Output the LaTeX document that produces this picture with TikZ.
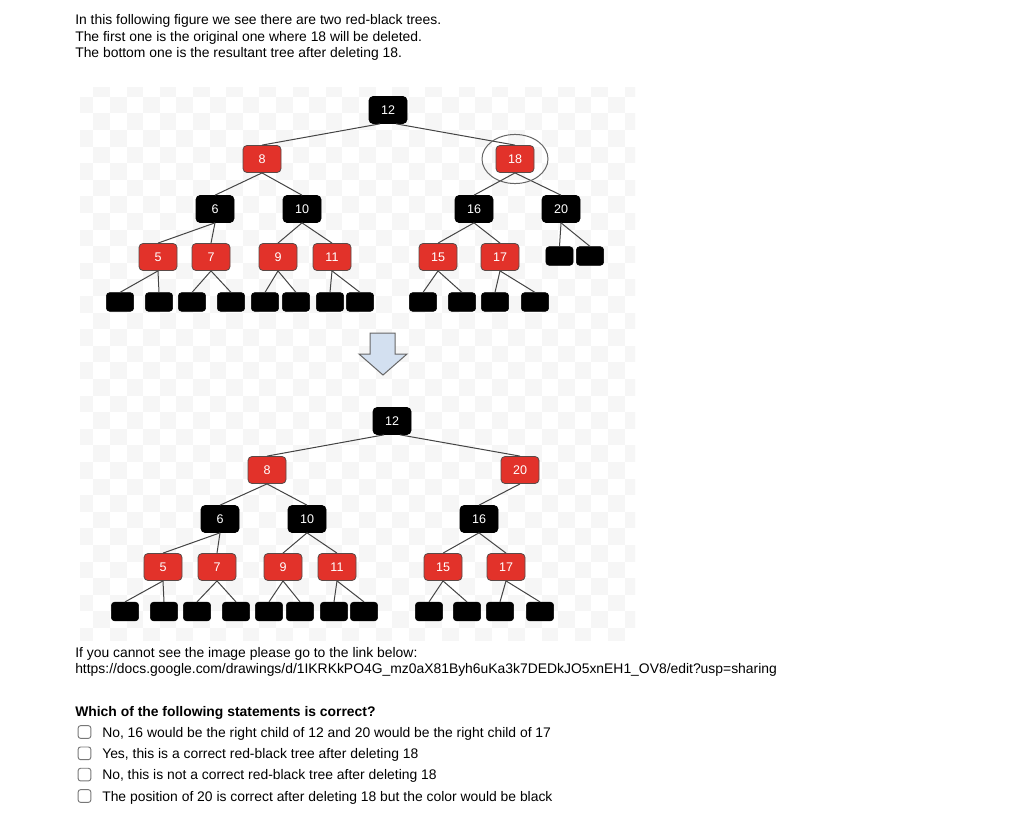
\documentclass[tikz,border=0pt]{standalone}
\usepackage{fontspec}
\setmainfont{Liberation Sans}
\usetikzlibrary{shapes.geometric}
\definecolor{rbred}{HTML}{E2322A}
\definecolor{rbborder}{HTML}{5A4A48}
\definecolor{edgegray}{HTML}{444444}
\definecolor{checkgray}{HTML}{F6F6F6}
\definecolor{arrowfill}{HTML}{D3E0F0}
\definecolor{arrowline}{HTML}{666666}
\definecolor{boxgray}{HTML}{777777}
\tikzset{
  rbnode/.style={rounded corners=3pt, minimum width=28.5pt, minimum height=20.25pt, inner sep=0pt, text=white, font=\fontsize{9.4}{10}\selectfont},
  blk/.style={rbnode, fill=black, draw=black, line width=0.5pt},
  rd/.style={rbnode, fill=rbred, draw=rbborder, line width=0.6pt},
  leaf/.style={fill=black, draw=black, line width=0.4pt, rounded corners=2.5pt, minimum width=20.5pt, minimum height=14pt, inner sep=0pt},
  edge/.style={draw=edgegray, line width=0.75pt},
  body/.style={anchor=base west, inner sep=0pt, font=\fontsize{10.42}{12}\selectfont},
  bodybold/.style={body, font=\fontsize{10.42}{12}\selectfont\bfseries},
  cbox/.style={draw=boxgray, line width=0.7pt, rounded corners=1.8pt, minimum width=9.5pt, minimum height=9.5pt, inner sep=0pt},
}
\begin{document}
\begin{tikzpicture}[x=0.75pt, y=-0.75pt]
\useasboundingbox (0,0) rectangle (1024,835);
\fill[white] (0,0) rectangle (1024,835);

% faint checkerboard behind the figure
\begin{scope}
  \clip (80,87) rectangle (635,640);
  \foreach \i in {-1,...,33} {
    \foreach \j in {-1,...,33} {
      \pgfmathtruncatemacro\chkpar{mod(\i+\j+100,2)}
      \ifnum\chkpar=1
        \fill[checkgray] (93.3+16.6*\i,96.7+16.6*\j) rectangle ++(16.6,16.6);
      \fi
    }
  }
\end{scope}

% header text
\node[body] (h1) at (75,24.5) {In this following figure we see there are two red-black trees.};
\node[body] (h2) at (75,41) {The first one is the original one where 18 will be deleted.};
\node[body] (h3) at (75,57.5) {The bottom one is the resultant tree after deleting 18.};

% ---------------- top tree ----------------
\node[blk] (t12) at (388,110) {12};
\node[rd]  (t8)  at (262,159) {8};
\node[rd]  (t18) at (515,159) {18};
\node[blk] (t6)  at (215,209) {6};
\node[blk] (t10) at (302,209) {10};
\node[blk] (t16) at (474,209) {16};
\node[blk] (t20) at (561,209) {20};
\node[rd]  (t5)  at (158,257) {5};
\node[rd]  (t7)  at (211,257) {7};
\node[rd]  (t9)  at (278,257) {9};
\node[rd]  (t11) at (332,257) {11};
\node[rd]  (t15) at (438,257) {15};
\node[rd]  (t17) at (500,257) {17};
\node[leaf] (tl1)  at (120,302) {};
\node[leaf] (tl2)  at (159,302) {};
\node[leaf] (tl3)  at (192,302) {};
\node[leaf] (tl4)  at (231,302) {};
\node[leaf] (tl5)  at (265,302) {};
\node[leaf] (tl6)  at (296,302) {};
\node[leaf] (tl7)  at (330,302) {};
\node[leaf] (tl8)  at (360,302) {};
\node[leaf] (tl9)  at (423,302) {};
\node[leaf] (tl10) at (462,302) {};
\node[leaf] (tl11) at (495,302) {};
\node[leaf] (tl12) at (535,302) {};
\node[leaf] (tl13) at (559.5,256) {};
\node[leaf] (tl14) at (590,256) {};

\draw[edge] ([xshift=-6pt]t12.south) -- (t8.north);
\draw[edge] ([xshift=6pt]t12.south) -- (t18.north);
\foreach \a/\b in {t8/t6, t8/t10, t18/t16, t18/t20, t6/t5, t6/t7, t10/t9, t10/t11,
  t16/t15, t16/t17, t5/tl1, t5/tl2, t7/tl3, t7/tl4, t9/tl5, t9/tl6, t11/tl7, t11/tl8,
  t15/tl9, t15/tl10, t17/tl11, t17/tl12, t20/tl13, t20/tl14}
  \draw[edge] (\a.south) -- (\b.north);

\draw[draw=arrowline, line width=0.75pt] (t18) ellipse [x radius=24.75pt, y radius=18.4pt];

% down arrow
\coordinate (arrtip) at (383,375);
\filldraw[fill=arrowfill, draw=arrowline, line width=0.75pt, line join=miter]
  (370,333) -- (395,333) -- (395,354) -- (407,354) -- (arrtip) -- (359,354) -- (370,354) -- cycle;

% ---------------- bottom tree ----------------
\node[blk] (b12) at (392,421) {12};
\node[rd]  (b8)  at (267,470) {8};
\node[rd]  (b20) at (520,470) {20};
\node[blk] (b6)  at (220,519) {6};
\node[blk] (b10) at (307,519) {10};
\node[blk] (b16) at (479,519) {16};
\node[rd]  (b5)  at (163,567) {5};
\node[rd]  (b7)  at (217,567) {7};
\node[rd]  (b9)  at (283,567) {9};
\node[rd]  (b11) at (337,567) {11};
\node[rd]  (b15) at (443,567) {15};
\node[rd]  (b17) at (506,567) {17};
\node[leaf] (bl1)  at (125,611.5) {};
\node[leaf] (bl2)  at (164,611.5) {};
\node[leaf] (bl3)  at (197,611.5) {};
\node[leaf] (bl4)  at (236,611.5) {};
\node[leaf] (bl5)  at (269,611.5) {};
\node[leaf] (bl6)  at (300,611.5) {};
\node[leaf] (bl7)  at (334,611.5) {};
\node[leaf] (bl8)  at (364,611.5) {};
\node[leaf] (bl9)  at (429,611.5) {};
\node[leaf] (bl10) at (467,611.5) {};
\node[leaf] (bl11) at (500,611.5) {};
\node[leaf] (bl12) at (540,611.5) {};

\draw[edge] ([xshift=-6pt]b12.south) -- (b8.north);
\draw[edge] ([xshift=6pt]b12.south) -- (b20.north);
\foreach \a/\b in {b20/b16, b8/b6, b8/b10, b6/b5, b6/b7, b10/b9, b10/b11, b16/b15, b16/b17,
  b5/bl1, b5/bl2, b7/bl3, b7/bl4, b9/bl5, b9/bl6, b11/bl7, b11/bl8,
  b15/bl9, b15/bl10, b17/bl11, b17/bl12}
  \draw[edge] (\a.south) -- (\b.north);

% footer text
\node[body] (f1) at (75,657) {If you cannot see the image please go to the link below:};
\node[body] (f2) at (75,673) {https://docs.google.com/drawings/d/1IKRKkPO4G\_mz0aX81Byh6uKa3k7DEDkJO5xnEH1\_OV8/edit?usp=sharing};
\node[bodybold] (q) at (75,716) {Which of the following statements is correct?};

\node[cbox] (c1) at (84.5,732) {};
\node[cbox] (c2) at (84.5,753.3) {};
\node[cbox] (c3) at (84.5,774.6) {};
\node[cbox] (c4) at (84.5,796) {};
\node[body] (o1) at (102,737) {No, 16 would be the right child of 12 and 20 would be the right child of 17};
\node[body] (o2) at (102,758.3) {Yes, this is a correct red-black tree after deleting 18};
\node[body] (o3) at (102,779.6) {No, this is not a correct red-black tree after deleting 18};
\node[body] (o4) at (102,801) {The position of 20 is correct after deleting 18 but the color would be black};
\end{tikzpicture}
\end{document}
